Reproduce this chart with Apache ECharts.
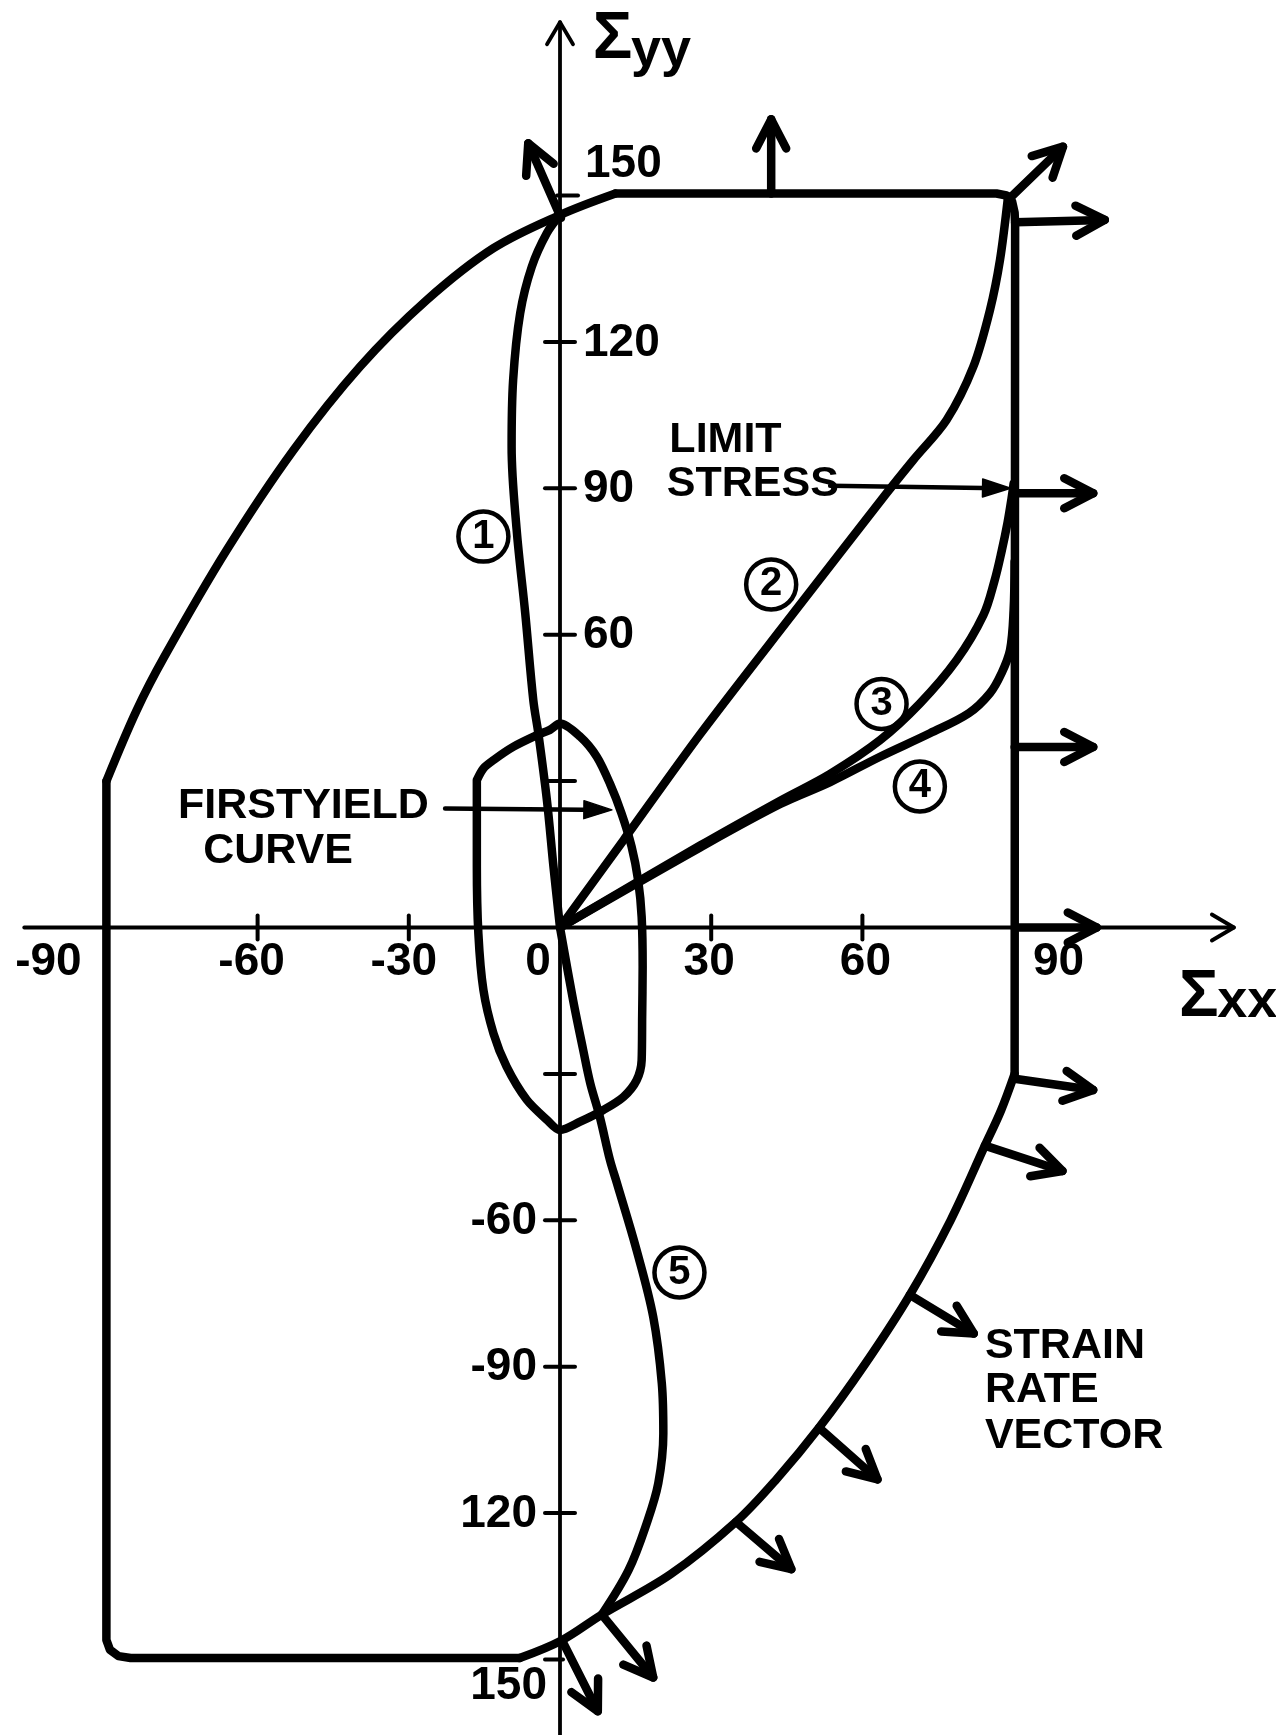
<!DOCTYPE html>
<html>
<head>
<meta charset="utf-8">
<script src="https://cdn.jsdelivr.net/npm/echarts@6/dist/echarts.min.js"></script>
<style>
html,body{margin:0;padding:0;background:#fff;}
#chart{width:1276px;height:1735px;}
</style>
</head>
<body>
<div id="chart"></div>
<script>
// Stress space (Σxx, Σyy): limit surface, first-yield curve, stress paths 1-5 and strain-rate vectors.

// Limit surface, split into its curved arcs and its straight edges
const limitUpperLeft = [[-90,30],[-84,44.5],[-78.5,55.5],[-66.1,77.4],[-52.9,97.8],[-39.7,114.9],[-26.4,128.6],[-13.2,139.2],[0,146],[11,150.4]];
const limitLowerRight = [[90.2,-30],[87.5,-37.5],[84.3,-44.7],[77.5,-60],[69.4,-75.3],[60.5,-89.5],[51.4,-102.5],[43,-113],[34.9,-121.8],[22,-132.5],[8.3,-140.8],[0.3,-146.1],[-8,-149.7]];
const limitTopRight = [[11,150.4],[86.6,150.4],[88.6,150],[89.7,148.8],[90.2,146.5],[90.3,144],[90.2,-30]];
const limitBottomLeft = [[-8,-149.7],[-85.2,-149.7],[-87.6,-149.3],[-89.3,-148],[-90,-146],[-90,-144],[-90,30]];

// First-yield curve (closed)
const firstYield = [[-16.5,30.2],[-15.2,32.6],[-13.2,34.3],[-9.3,37.0],[-4.6,39.4],[-2.0,40.5],[0,41.8],[4.0,39.1],[7.3,35.0],[9.9,29.5],[12.2,23.4],[14.2,16.6],[15.5,9.7],[16.2,2.2],[16.4,-8.0],[16.3,-18.3],[16.2,-27.2],[15.2,-31.3],[12.6,-34.7],[8.6,-37.4],[4.0,-39.8],[0,-41.5],[-2.6,-39.4],[-6.6,-35.3],[-10.6,-28.5],[-13.2,-21.7],[-15.2,-12.8],[-16.2,-1.2],[-16.5,12.5],[-16.5,26.1],[-16.5,30.2]];

// Stress paths from the origin
const path1 = [[0,0],[-1.3,12.5],[-2.6,26.1],[-4.3,39.8],[-5.3,46.6],[-6.9,64.4],[-8.6,81.5],[-9.6,98.5],[-9.3,112.2],[-7.9,125.9],[-5.6,135.4],[-2.6,142.3],[0,146]];
const path2 = [[0,0],[12.6,17.9],[27.8,39.6],[46,64],[64.8,89],[70.1,95.8],[76.7,104],[82,114.9],[85.3,126.5],[87.3,136.8],[88.9,149.8]];
const path3 = [[0,0],[27.8,16.8],[43.7,26],[53.6,31.5],[63.5,38.4],[71.4,45.9],[78.7,54.8],[84,64],[86.2,71],[87.6,77],[88.8,83],[89.6,88],[90,91]];
const path4 = [[0,0],[27.8,16.4],[43.7,25.3],[53.6,29.8],[63.5,35],[73.4,39.8],[81.1,43.9],[85.3,48],[87.6,52.1],[89.3,56.9],[90,65],[90.2,75]];
const path5 = [[0,0],[2.6,-14.9],[4.6,-25.1],[6,-31.9],[7.9,-38.8],[9.9,-47.6],[11.3,-52.4],[15.2,-66.1],[18.5,-79.8],[20.2,-93.4],[20.5,-103.7],[19.5,-113.9],[17.2,-122.1],[13.6,-131.7],[8.3,-140.8]];

// Strain-rate vectors on the limit surface: [x0, y0, x1, y1]
const strainVectors = [
  [0.2,145.4,-6.3,160.7],
  [41.9,150.4,41.9,165.6],
  [88.9,149.1,99.8,160],
  [90.3,144.5,108.1,145],
  [90.2,89,105.8,89],
  [90.2,37,105.8,37],
  [90.2,0,106.5,0],
  [90.2,-31,105.8,-33.3],
  [84.3,-44.7,99.7,-49.9],
  [69.4,-75.3,82.1,-83.2],
  [51.4,-102.5,63,-113.1],
  [34.9,-121.8,45.9,-131.5],
  [8.3,-140.8,18.5,-153.7],
  [0.6,-146.5,7.5,-160.6]
];

// Leader arrows for the two callouts: [x0, y0, x1, y1]
const leaders = [[-22.8,24.4,10.3,24.1],[53.6,90.5,89.4,90]];

// Axis lines: [x0, y0, x1, y1]
const axisLines = [[-106.3,0,133.7,0],[0,-165.5,0,185.5]];

// Ticks and tick labels
const xTickValues = [-60,-30,30,60];
const yTickValues = [150,120,90,60,30,-30,-60,-90,-120,-150];
const xLabelValues = [-90,-60,-30,0,30,60,90];
const xLabelText = ['-90','-60','-30','0','30','60','90'];
const yLabelValues = [150,120,90,60,-60,-90,-120,-150];
const yLabelText = ['150','120','90','60','-60','-90','120','150'];

// Circled path numbers: [x, y, number]
const pathMarks = [[-15.2,80.1,'1'],[41.9,70.3,'2'],[63.8,45.8,'3'],[71.4,28.9,'4'],[23.7,-70.7,'5']];

// Callout text: [x, y, text] (left edge, vertical middle)
const callouts = [
  [21.7,99.8,'LIMIT'],[21.2,90.9,'STRESS'],
  [-75.8,24.9,'FIRSTYIELD'],[-70.8,15.6,'CURVE'],
  [84.3,-85.7,'STRAIN'],[84.3,-94.8,'RATE'],[84.3,-104.2,'VECTOR']
];

// Axis titles: [x, y, text, part]
const axisTitles = [
  [6.5,181.9,'Σ','big'],[14.1,179.5,'yy','sub'],
  [122.8,-14.5,'Σ','big'],[130.4,-15.3,'xx','sub']
];

const FONT = '"Liberation Sans", Arial, sans-serif';
const INK = '#000000';
const STROKE = 8.5;

const chart = echarts.init(document.getElementById('chart'), null, {renderer: 'canvas'});

function curve(data, smooth) {
  return {
    type: 'line', data: data, smooth: smooth, symbol: 'none', silent: true,
    lineStyle: {color: INK, width: STROKE, cap: 'round', join: 'round', opacity: 1},
    z: 3
  };
}

function arrowGeom(api, head, half) {
  const p0 = api.coord([api.value(0), api.value(1)]);
  const p1 = api.coord([api.value(2), api.value(3)]);
  const dx = p1[0] - p0[0], dy = p1[1] - p0[1];
  const len = Math.hypot(dx, dy) || 1;
  const ux = dx / len, uy = dy / len, nx = -uy, ny = ux;
  const b = [p1[0] - ux * head, p1[1] - uy * head];
  return {p0, p1, b, w1: [b[0] + nx * half, b[1] + ny * half], w2: [b[0] - nx * half, b[1] - ny * half]};
}

function chevronArrow(width, head, half) {
  return function (params, api) {
    const g = arrowGeom(api, head, half);
    const st = {stroke: INK, lineWidth: width, lineCap: 'round', lineJoin: 'round', fill: null};
    return {type: 'group', children: [
      {type: 'polyline', shape: {points: [g.p0, g.p1]}, style: st},
      {type: 'polyline', shape: {points: [g.w1, g.p1, g.w2]}, style: st}
    ]};
  };
}

function filledArrow(params, api) {
  const g = arrowGeom(api, 28, 9);
  return {type: 'group', children: [
    {type: 'polyline', shape: {points: [g.p0, g.b]}, style: {stroke: INK, lineWidth: 4.5, lineCap: 'round', fill: null}},
    {type: 'polygon', shape: {points: [g.w1, g.p1, g.w2]}, style: {fill: INK, stroke: INK, lineWidth: 1.5, lineJoin: 'round'}}
  ]};
}

function yTick(params, api) {
  const v = api.value(1);
  const p = api.coord([0, v]);
  const ext = v === 150 ? [-3, 18] : (v === -150 ? [-15, 3] : [-15, 15]);
  return {type: 'line', shape: {x1: p[0] + ext[0], y1: p[1], x2: p[0] + ext[1], y2: p[1]},
    style: {stroke: INK, lineWidth: 4, lineCap: 'round'}};
}

function xTick(params, api) {
  const p = api.coord([api.value(0), 0]);
  return {type: 'line', shape: {x1: p[0], y1: p[1] - 12, x2: p[0], y2: p[1] + 12},
    style: {stroke: INK, lineWidth: 4, lineCap: 'round'}};
}

// Horizontal nudges for the x tick labels (pixels)
const xLabelShift = [-58, -6, -5, -22, -2, 3, 45];

const xLabelData = xLabelValues.map((v, i) => ({
  value: [v, 0, xLabelText[i]],
  label: {align: 'center', offset: [xLabelShift[i], 35]}
}));

const yLabelData = yLabelValues.map((v, i) => {
  let lab;
  if (v > 0) lab = {align: 'left', offset: v === 150 ? [25, -31] : [23, 1]};
  else lab = {align: 'right', offset: v === -150 ? [-13, 27] : [-23, 1]};
  return {value: [0, v, yLabelText[i]], label: lab};
});

// Shared text look: solid black, no halo
const textStyleBase = {
  color: INK, fontFamily: FONT, fontWeight: 'bold', position: 'inside', verticalAlign: 'middle',
  textBorderWidth: 0, textBorderColor: 'transparent', textShadowBlur: 0, opacity: 1
};

function textSeries(fontSize, data, extra) {
  return {
    type: 'scatter', symbolSize: 0, silent: true, z: 6,
    itemStyle: {color: INK, opacity: 1},
    label: Object.assign({show: true, fontSize: fontSize, formatter: p => p.value[2]}, textStyleBase, extra || {}),
    data: data
  };
}

chart.setOption({
  backgroundColor: '#fff',
  animation: false,
  grid: {left: 0, right: 0, top: 0, bottom: 0, containLabel: false},
  xAxis: {type: 'value', min: -111.11, max: 142.06, show: false},
  yAxis: {type: 'value', min: -165.47, max: 190.06, show: false},
  series: [
    // axes
    {type: 'custom', coordinateSystem: 'cartesian2d', renderItem: chevronArrow(3.8, 22, 13),
      data: axisLines, silent: true, clip: false, z: 2},
    {type: 'custom', coordinateSystem: 'cartesian2d', renderItem: yTick,
      data: yTickValues.map(v => [0, v]), silent: true, clip: false, z: 2},
    {type: 'custom', coordinateSystem: 'cartesian2d', renderItem: xTick,
      data: xTickValues.map(v => [v, 0]), silent: true, clip: false, z: 2},
    // limit surface
    curve(limitUpperLeft, 0.35),
    curve(limitLowerRight, 0.35),
    curve(limitTopRight, false),
    curve(limitBottomLeft, false),
    // first-yield curve
    curve(firstYield, 0.3),
    // stress paths
    curve(path1, 0.35),
    curve(path2, 0.3),
    curve(path3, 0.35),
    curve(path4, 0.35),
    curve(path5, 0.35),
    // strain-rate vectors
    {type: 'custom', coordinateSystem: 'cartesian2d', renderItem: chevronArrow(8.5, 29, 15),
      data: strainVectors, silent: true, clip: false, z: 4},
    // callout leaders
    {type: 'custom', coordinateSystem: 'cartesian2d', renderItem: filledArrow,
      data: leaders, silent: true, clip: false, z: 4},
    // circled path numbers
    {type: 'scatter', symbol: 'circle', symbolSize: 50, silent: true, z: 5,
      itemStyle: {color: 'rgba(255,255,255,0)', borderColor: INK, borderWidth: 4.5, opacity: 1},
      label: Object.assign({show: true, fontSize: 40, align: 'center', formatter: p => p.value[2]}, textStyleBase),
      data: pathMarks},
    // tick labels
    textSeries(46, xLabelData),
    textSeries(46, yLabelData),
    // callout text
    textSeries(43, callouts, {align: 'left'}),
    // axis titles
    textSeries(54, axisTitles.map(t => ({value: t, label: {fontSize: t[3] === 'big' ? 66 : 54}})), {align: 'left'})
  ]
});
</script>
</body>
</html>
